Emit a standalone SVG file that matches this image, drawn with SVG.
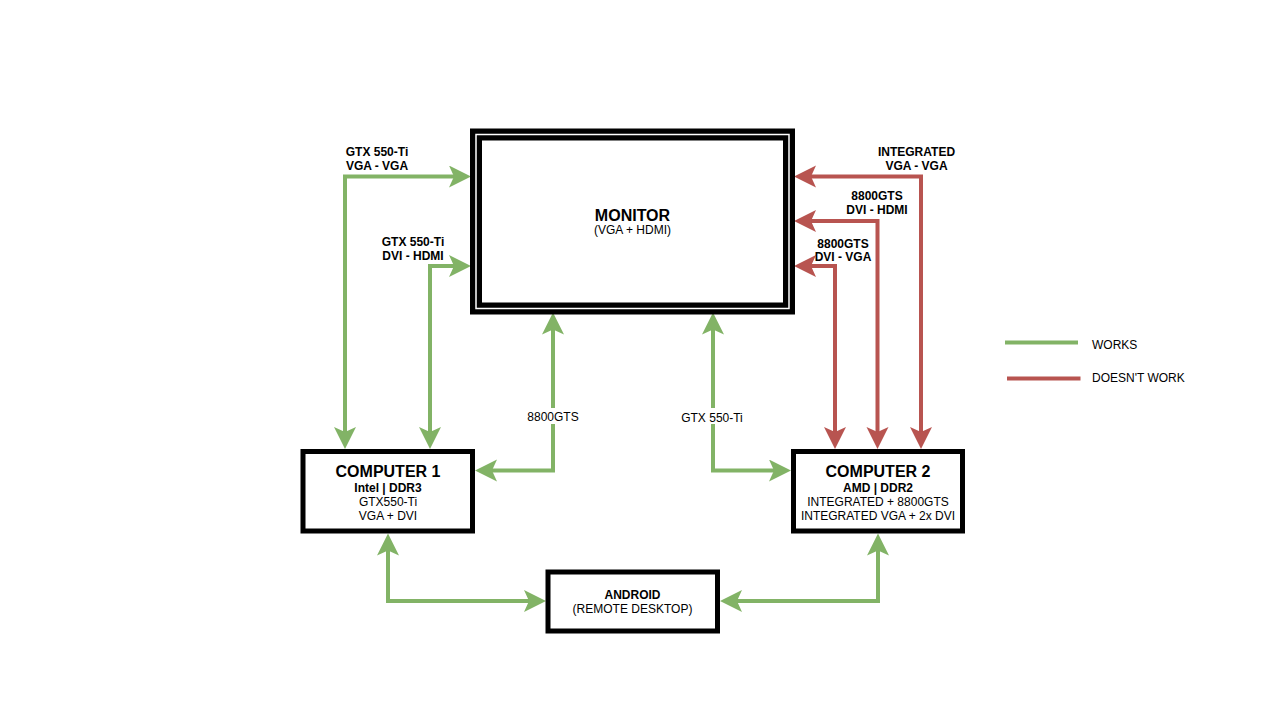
<svg xmlns="http://www.w3.org/2000/svg" width="1280" height="720" viewBox="0 0 1280 720">
  <style>
    text { font-family: "Liberation Sans", Arial, Helvetica, sans-serif; fill: #000; }
    .t16b { font-size: 16px; font-weight: bold; text-anchor: middle; }
    .t12b { font-size: 12px; font-weight: bold; text-anchor: middle; }
    .t12 { font-size: 12px; text-anchor: middle; }
    .lg { font-size: 12px; }
    .box { fill: #fff; stroke: #000; stroke-width: 5; }
    .ok { fill: none; stroke: #82b366; stroke-width: 4; marker-start: url(#ag); marker-end: url(#ag); }
    .bad { fill: none; stroke: #b85450; stroke-width: 4; marker-start: url(#ar); marker-end: url(#ar); }
  </style>
  <defs>
    <marker id="ag" markerUnits="userSpaceOnUse" markerWidth="24" markerHeight="24" refX="6" refY="11" orient="auto-start-reverse">
      <path d="M0,0 L22,11 L0,22 L5,11 Z" fill="#82b366"/>
    </marker>
    <marker id="ar" markerUnits="userSpaceOnUse" markerWidth="24" markerHeight="24" refX="6" refY="11" orient="auto-start-reverse">
      <path d="M0,0 L22,11 L0,22 L5,11 Z" fill="#b85450"/>
    </marker>
  </defs>
  <rect width="1280" height="720" fill="#fff"/>

  <g id="connectors">
    <path class="ok" d="M345,433 L345,176.5 L455,176.5"/>
    <path class="ok" d="M430,433 L430,266 L455,266"/>
    <path class="ok" d="M553,328.5 L553,470.5 L491,470.5"/>
    <path class="ok" d="M713,328.5 L713,470.5 L775,470.5"/>
    <path class="bad" d="M810,176.5 L921,176.5 L921,433"/>
    <path class="bad" d="M810,221 L877.5,221 L877.5,433"/>
    <path class="bad" d="M810,266 L835,266 L835,433"/>
    <path class="ok" d="M388,549.5 L388,601 L530,601"/>
    <path class="ok" d="M878,549.5 L878,601 L736,601"/>
    <rect x="525" y="408" width="56" height="16" fill="#fff"/>
    <rect x="680" y="408" width="66" height="16" fill="#fff"/>
    <text class="t12" x="553" y="421">8800GTS</text>
    <text class="t12" x="712" y="421.5">GTX 550-Ti</text>
    <text class="t12b" x="377" y="156">GTX 550-Ti</text>
    <text class="t12b" x="377" y="170">VGA - VGA</text>
    <text class="t12b" x="413" y="246">GTX 550-Ti</text>
    <text class="t12b" x="413" y="260">DVI - HDMI</text>
    <text class="t12b" x="916.5" y="156">INTEGRATED</text>
    <text class="t12b" x="916.5" y="169.5">VGA - VGA</text>
    <text class="t12b" x="877" y="199.5">8800GTS</text>
    <text class="t12b" x="877" y="213.5">DVI - HDMI</text>
    <text class="t12b" x="843" y="247.5">8800GTS</text>
    <text class="t12b" x="843" y="261">DVI - VGA</text>
  </g>

  <g id="monitor">
    <rect x="476" y="134.5" width="313" height="174" fill="#fff" stroke="#000" stroke-width="12"/>
    <rect x="476" y="134.5" width="313" height="174" fill="none" stroke="#fff" stroke-width="1.5"/>
    <text class="t16b" x="632.5" y="221">MONITOR</text>
    <text class="t12" x="632.5" y="234">(VGA + HDMI)</text>
  </g>

  <g id="computer1">
    <rect class="box" x="303" y="451.5" width="169.5" height="79.5"/>
    <text class="t16b" x="388" y="477">COMPUTER 1</text>
    <text class="t12b" x="388" y="491.5">Intel | DDR3</text>
    <text class="t12" x="388" y="505.5">GTX550-Ti</text>
    <text class="t12" x="388" y="519.5">VGA + DVI</text>
  </g>

  <g id="computer2">
    <rect class="box" x="793.5" y="451.5" width="169" height="79.5"/>
    <text class="t16b" x="878" y="477">COMPUTER 2</text>
    <text class="t12b" x="878" y="491.5">AMD | DDR2</text>
    <text class="t12" x="878" y="505.5">INTEGRATED + 8800GTS</text>
    <text class="t12" x="878" y="519.5">INTEGRATED VGA + 2x DVI</text>
  </g>

  <g id="android">
    <rect class="box" x="548" y="572" width="169.5" height="59"/>
    <text class="t12b" x="632.5" y="598.5">ANDROID</text>
    <text class="t12" x="632.5" y="612.5">(REMOTE DESKTOP)</text>
  </g>

  <g id="legend">
    <line x1="1005" y1="342.5" x2="1078" y2="342.5" stroke="#82b366" stroke-width="4"/>
    <line x1="1007" y1="378.5" x2="1080.5" y2="378.5" stroke="#b85450" stroke-width="4"/>
    <text class="lg" x="1092" y="349">WORKS</text>
    <text class="lg" x="1092" y="382">DOESN'T WORK</text>
  </g>
</svg>
